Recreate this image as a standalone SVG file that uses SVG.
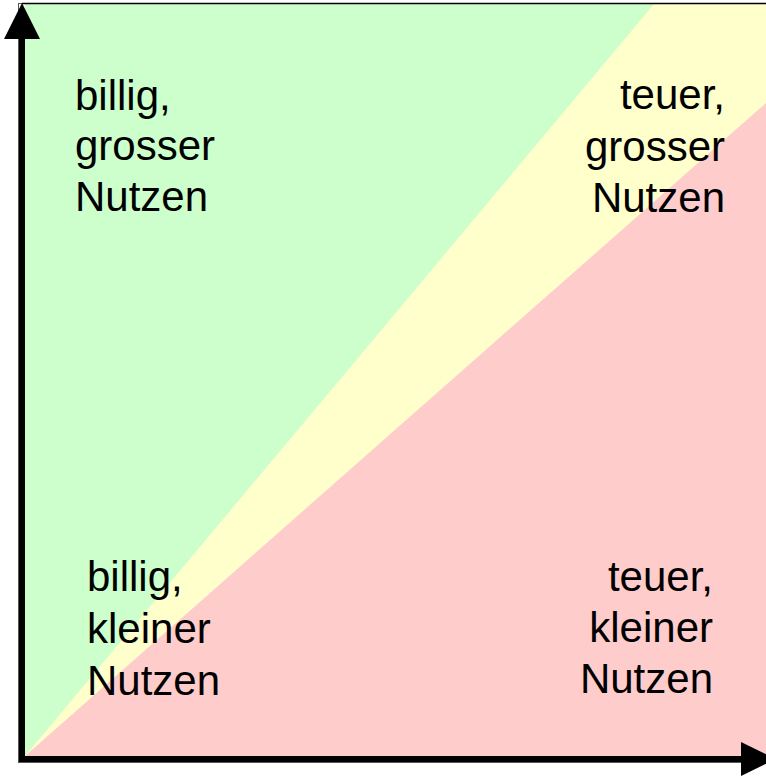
<svg xmlns="http://www.w3.org/2000/svg" width="766" height="777" viewBox="0 0 766 777">
<style>
.lbl{font-family:"Liberation Sans",Arial,sans-serif;font-size:42px;fill:#000}
.end{text-anchor:end}
.axis{stroke:#000;stroke-width:6;fill:none}
.head{fill:#000;stroke:none}
</style>
<rect x="0" y="0" width="766" height="777" fill="#fff"/>
<g id="regions">
<polygon points="25,4 766,4 766,756 25,756" fill="#ffffcc"/>
<polygon points="25,4 654,4 25,756" fill="#ccffcc"/>
<polygon points="766,103 766,756 25,756" fill="#ffcccc"/>
</g>
<rect x="18.5" y="3.5" width="760" height="759" fill="none" stroke="#555" stroke-width="1"/>
<line x1="22" y1="3.5" x2="766" y2="3.5" stroke="#000" stroke-width="1.5"/>
<g id="connectors">
<line class="axis" x1="22" y1="762" x2="22" y2="36"/>
<polygon class="head" points="22,3 4,39 40,39"/>
<line class="axis" x1="19" y1="759" x2="744" y2="759"/>
<polygon class="head" points="776,759 741,742 741,776"/>
</g>
<g id="top-left">
<text class="lbl" x="75" y="110">billig,</text>
<text class="lbl" x="75" y="160">grosser</text>
<text class="lbl" x="75" y="211">Nutzen</text>
</g>
<g id="top-right">
<text class="lbl end" x="725" y="109">teuer,</text>
<text class="lbl end" x="725" y="161">grosser</text>
<text class="lbl end" x="725" y="212">Nutzen</text>
</g>
<g id="bottom-left">
<text class="lbl" x="87" y="591">billig,</text>
<text class="lbl" x="87" y="643">kleiner</text>
<text class="lbl" x="87" y="695">Nutzen</text>
</g>
<g id="bottom-right">
<text class="lbl end" x="713" y="591">teuer,</text>
<text class="lbl end" x="713" y="642">kleiner</text>
<text class="lbl end" x="713" y="693">Nutzen</text>
</g>
</svg>
